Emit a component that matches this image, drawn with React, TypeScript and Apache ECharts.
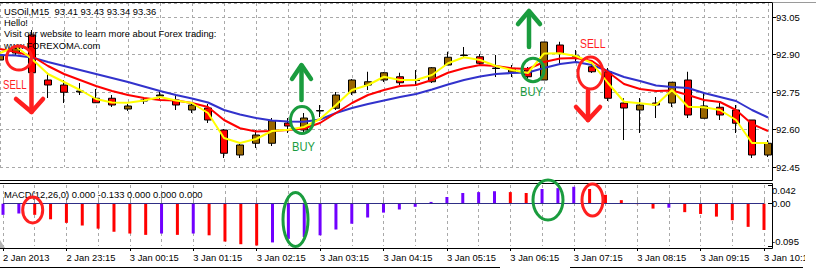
import React, { useEffect, useRef } from "react";
import * as echarts from "echarts";

const categories = [
  "2 Jan 2013", "2 Jan 22:30", "2 Jan 22:45", "2 Jan 23:00", "2 Jan 23:15", "2 Jan 23:30", "2 Jan 23:45",
  "3 Jan 00:00", "3 Jan 00:15", "3 Jan 00:30", "3 Jan 00:45", "3 Jan 01:00", "3 Jan 01:15", "3 Jan 01:30",
  "3 Jan 01:45", "3 Jan 02:00", "3 Jan 02:15", "3 Jan 02:30", "3 Jan 02:45", "3 Jan 03:00", "3 Jan 03:15",
  "3 Jan 03:30", "3 Jan 03:45", "3 Jan 04:00", "3 Jan 04:15", "3 Jan 04:30", "3 Jan 04:45", "3 Jan 05:00",
  "3 Jan 05:15", "3 Jan 05:30", "3 Jan 05:45", "3 Jan 06:00", "3 Jan 06:15", "3 Jan 06:30", "3 Jan 06:45",
  "3 Jan 07:00", "3 Jan 07:15", "3 Jan 07:30", "3 Jan 07:45", "3 Jan 08:00", "3 Jan 08:15", "3 Jan 08:30",
  "3 Jan 08:45", "3 Jan 09:00", "3 Jan 09:15", "3 Jan 09:30", "3 Jan 09:45", "3 Jan 10:00", "3 Jan 10:15",
];

const opens = [
  92.878, 92.906, 92.978, 92.798, 92.778, 92.75, 92.725, 92.725, 92.682, 92.714, 92.734, 92.718, 92.678,
  92.686, 92.598, 92.498, 92.545, 92.545, 92.626, 92.598, 92.674, 92.685, 92.747, 92.778, 92.798, 92.811,
  92.796, 92.791, 92.858, 92.896, 92.891, 92.844, 92.829, 92.838, 92.798, 92.938, 92.892, 92.851, 92.831,
  92.706, 92.678, 92.706, 92.706, 92.798, 92.645, 92.689, 92.678, 92.638, 92.498,
];
const highs = [
  92.91, 92.938, 92.998, 92.827, 92.798, 92.786, 92.762, 92.738, 92.702, 92.73, 92.75, 92.738, 92.71,
  92.702, 92.602, 92.542, 92.598, 92.646, 92.646, 92.666, 92.698, 92.75, 92.802, 92.831, 92.83, 92.827,
  92.838, 92.85, 92.911, 92.93, 92.902, 92.898, 92.858, 92.85, 92.95, 92.951, 92.918, 92.87, 92.846,
  92.725, 92.726, 92.73, 92.79, 92.831, 92.75, 92.706, 92.698, 92.638, 92.558,
];
const lows = [
  92.87, 92.898, 92.818, 92.726, 92.706, 92.738, 92.706, 92.69, 92.674, 92.702, 92.722, 92.678, 92.666,
  92.626, 92.486, 92.486, 92.526, 92.534, 92.586, 92.59, 92.65, 92.678, 92.738, 92.758, 92.79, 92.778,
  92.778, 92.786, 92.858, 92.89, 92.858, 92.81, 92.81, 92.798, 92.798, 92.858, 92.87, 92.826, 92.714,
  92.558, 92.586, 92.646, 92.69, 92.646, 92.645, 92.638, 92.586, 92.486, 92.49,
];
const closes = [
  92.898, 92.926, 92.827, 92.778, 92.749, 92.754, 92.707, 92.698, 92.694, 92.718, 92.738, 92.698, 92.698,
  92.638, 92.505, 92.538, 92.578, 92.635, 92.614, 92.646, 92.676, 92.738, 92.798, 92.791, 92.827, 92.787,
  92.798, 92.847, 92.889, 92.898, 92.865, 92.846, 92.845, 92.811, 92.95, 92.905, 92.894, 92.831, 92.725,
  92.686, 92.698, 92.698, 92.789, 92.658, 92.694, 92.658, 92.625, 92.498, 92.545,
];

const maFast = [
  92.906, 92.932, 92.882, 92.822, 92.79, 92.758, 92.722, 92.708, 92.707, 92.716, 92.73, 92.716, 92.706,
  92.666, 92.566, 92.546, 92.562, 92.594, 92.599, 92.61, 92.642, 92.698, 92.758, 92.778, 92.811, 92.798,
  92.798, 92.818, 92.865, 92.889, 92.878, 92.854, 92.838, 92.826, 92.904, 92.905, 92.894, 92.866, 92.786,
  92.711, 92.705, 92.698, 92.758, 92.691, 92.689, 92.678, 92.638, 92.546, 92.546,
];
const maMid = [
  92.922, 92.91, 92.894, 92.854, 92.822, 92.798, 92.774, 92.754, 92.738, 92.726, 92.718, 92.716, 92.706,
  92.69, 92.638, 92.605, 92.592, 92.594, 92.598, 92.604, 92.626, 92.666, 92.706, 92.738, 92.758, 92.774,
  92.778, 92.798, 92.827, 92.845, 92.858, 92.854, 92.845, 92.842, 92.87, 92.884, 92.886, 92.874, 92.83,
  92.782, 92.762, 92.754, 92.756, 92.738, 92.718, 92.71, 92.678, 92.622, 92.594,
];
const maSlow = [
  92.898, 92.896, 92.888, 92.87, 92.854, 92.838, 92.822, 92.806, 92.79, 92.772, 92.754, 92.738, 92.724,
  92.708, 92.678, 92.66, 92.646, 92.636, 92.632, 92.631, 92.64, 92.666, 92.686, 92.702, 92.716, 92.73,
  92.742, 92.76, 92.78, 92.798, 92.812, 92.822, 92.826, 92.828, 92.846, 92.862, 92.87, 92.858, 92.834,
  92.81, 92.794, 92.776, 92.77, 92.766, 92.746, 92.73, 92.714, 92.678, 92.648,
];

const macd = [
  -0.025, -0.022, -0.025, -0.035, -0.043, -0.049, -0.056, -0.063, -0.067, -0.07, -0.067, -0.07, -0.067,
  -0.071, -0.085, -0.091, -0.094, -0.087, -0.079, -0.075, -0.071, -0.058, -0.045, -0.031, -0.02, -0.013,
  -0.007, 0.004, 0.015, 0.024, 0.026, 0.028, 0.026, 0.024, 0.033, 0.035, 0.038, 0.033, 0.02, 0.008,
  -0.001, -0.011, -0.009, -0.019, -0.023, -0.029, -0.037, -0.052, -0.059,
];

const priceTicks = { min: 92.45, max: 93.106, step: 0.15 };
const macdTicks = { min: -0.095, max: 0.042, step: 0.095 };

const headerLines = [
  "USOil,M15  93.41 93.43 93.34 93.36",
  "Hello!",
  "Visit our website to learn more about Forex trading:",
  "www.FOREXOMA.com",
];
const macdTitle = "MACD(12,26,0) 0.000 -0.133 0.000 0.000 0.000";

const FONT = '"Liberation Sans", Arial, sans-serif';
const RED = "#ff1f1f";
const GREEN = "#1a9c3e";
const GRID = "#a9a9a9";

export default function App() {
  const ref = useRef<HTMLDivElement>(null);
  useEffect(() => {
    if (!ref.current) return;
    const chart = echarts.init(ref.current, null, { renderer: "svg" });

    const line = (x1: number, y1: number, x2: number, y2: number, stroke = "#000") => ({
      type: "line",
      z: 120,
      silent: true,
      shape: { x1, y1, x2, y2 },
      style: { stroke, lineWidth: 1 },
    });
    const ellipse = (cx: number, cy: number, rx: number, ry: number, stroke: string) => ({
      type: "ellipse",
      z: 130,
      silent: true,
      shape: { cx, cy, rx, ry },
      style: { stroke, fill: "none", lineWidth: 3 },
    });
    const poly = (points: number[][], stroke: string) => ({
      type: "polyline",
      z: 130,
      silent: true,
      shape: { points },
      style: { stroke, fill: "none", lineWidth: 4.5, lineCap: "round", lineJoin: "round" },
    });
    const txt = (text: string, x: number, y: number, fill = "#000", size = 9.4, scaleX = 1) => ({
      type: "text",
      z: 125,
      silent: true,
      x,
      y,
      scaleX,
      style: { text, fill, font: `${size}px ${FONT}`, align: "left", verticalAlign: "middle" },
    });

    const graphic: any[] = [
      {
        type: "rect",
        z: 119,
        silent: true,
        shape: { x: 805, y: 250, width: 11, height: 16 },
        style: { fill: "#ffffff" },
      },
      line(0, 2.5, 772.5, 2.5),
      line(772.5, 2.5, 816, 2.5, "#9a9a9a"),
      line(772.5, 2.5, 772.5, 180.5),
      line(0, 180.5, 772.5, 180.5),
      line(0, 183.5, 772.5, 183.5),
      line(772.5, 183.5, 772.5, 248.5),
      line(0, 248.5, 772.5, 248.5),
      line(0, 267.5, 500, 267.5),
      line(570, 267.5, 803, 267.5),
      {
        type: "polygon",
        z: 121,
        silent: true,
        shape: { points: [[0, 240], [0, 248], [5, 248]] },
        style: { fill: "#b4b4b4" },
      },
      ...headerLines.map((t, i) => txt(t, 4, 11.5 + i * 11.2)),
      txt(macdTitle, 4, 194),
      // annotations
      ellipse(19, 58, 12.5, 12, RED),
      ellipse(590.5, 73, 12.5, 16, RED),
      ellipse(32.7, 210, 10, 13, RED),
      ellipse(592.5, 200, 10.5, 16, RED),
      ellipse(302, 120, 11.5, 13.5, GREEN),
      ellipse(533, 70, 11, 11.7, GREEN),
      ellipse(295.5, 219.5, 12.5, 27, GREEN),
      ellipse(548, 200, 15, 20, GREEN),
      poly([[31.5, 74], [31.5, 112]], RED),
      poly([[16, 99], [31.5, 112], [43, 99]], RED),
      poly([[588, 91], [588, 120]], RED),
      poly([[576, 107], [588, 120], [600, 107]], RED),
      poly([[301.5, 66], [301.5, 100]], GREEN),
      poly([[292, 79], [301.5, 65], [311, 79]], GREEN),
      poly([[529, 12], [529, 47]], GREEN),
      poly([[518, 24], [529, 11], [540, 24]], GREEN),
      txt("SELL", 3, 84, RED, 13, 0.74),
      txt("SELL", 580, 43, RED, 13, 0.8),
      txt("BUY", 292, 147, GREEN, 13, 0.86),
      txt("BUY", 520, 92, GREEN, 13, 0.86),
    ];

    const labelStyle = { fontSize: 9.4, fontFamily: FONT, color: "#000" };
    const dashed = { color: GRID, type: [3, 3] as any, width: 1 };

    const option: any = {
      animation: false,
      backgroundColor: "#ffffff",
      grid: [
        { left: 0, top: 3, width: 768, height: 164 },
        { left: 0, top: 185, width: 768, height: 61 },
      ],
      xAxis: [
        {
          type: "category",
          gridIndex: 0,
          data: categories,
          boundaryGap: false,
          axisLine: { show: false },
          axisTick: { show: false },
          axisLabel: { show: false },
          splitLine: { show: true, interval: 1, lineStyle: dashed },
        },
        {
          type: "category",
          gridIndex: 1,
          data: categories,
          boundaryGap: false,
          position: "bottom",
          offset: 2,
          axisLine: { show: false },
          axisTick: { show: true, inside: true, interval: 1, length: 4, lineStyle: { color: "#9a9a9a" } },
          axisLabel: { show: true, interval: 3, align: "left", margin: 5, ...labelStyle },
          splitLine: { show: true, interval: 1, lineStyle: dashed },
        },
        {
          type: "category",
          gridIndex: 1,
          data: categories,
          boundaryGap: false,
          position: "bottom",
          offset: 2,
          axisLine: { show: false },
          axisTick: { show: true, interval: 3, length: 3, lineStyle: { color: "#000" } },
          axisLabel: { show: false },
          splitLine: { show: false },
        },
      ],
      yAxis: [
        {
          type: "value",
          gridIndex: 0,
          position: "right",
          offset: 4,
          min: priceTicks.min,
          max: priceTicks.max,
          interval: priceTicks.step,
          axisLine: { show: false },
          axisTick: { show: true, length: 4, lineStyle: { color: "#000" } },
          axisLabel: {
            margin: 4,
            showMaxLabel: false,
            formatter: (v: number) => v.toFixed(2),
            ...labelStyle,
            fontSize: 9.5,
          },
          splitLine: { show: true, lineStyle: dashed },
        },
        {
          type: "value",
          gridIndex: 1,
          position: "right",
          offset: 4,
          min: macdTicks.min,
          max: macdTicks.max,
          interval: macdTicks.step,
          axisLine: { show: false },
          axisTick: { show: true, length: 4, lineStyle: { color: "#000" } },
          axisLabel: {
            margin: 4,
            lineHeight: 10,
            formatter: (v: number) =>
              v === 0 ? "0.00" : v > 0 ? "\n" + v.toFixed(3) : v.toFixed(3) + "\n",
            ...labelStyle,
            fontSize: 9.5,
          },
          splitLine: { show: false },
        },
      ],
      series: [
        {
          type: "candlestick",
          xAxisIndex: 0,
          yAxisIndex: 0,
          barWidth: 8,
          clip: false,
          z: 2,
          data: opens.map((o, i) => [o, closes[i], lows[i], highs[i]]),
          itemStyle: {
            color: "#996600",
            color0: "#ff0000",
            borderColor: "#000000",
            borderColor0: "#000000",
            borderWidth: 1,
          },
        },
        {
          type: "line",
          xAxisIndex: 0,
          yAxisIndex: 0,
          data: maSlow,
          showSymbol: false,
          symbol: "none",
          z: 3,
          lineStyle: { color: "#3232cc", width: 2 },
        },
        {
          type: "line",
          xAxisIndex: 0,
          yAxisIndex: 0,
          data: maMid,
          showSymbol: false,
          symbol: "none",
          z: 4,
          lineStyle: { color: "#ff0000", width: 2 },
        },
        {
          type: "line",
          xAxisIndex: 0,
          yAxisIndex: 0,
          data: maFast,
          showSymbol: false,
          symbol: "none",
          z: 5,
          lineStyle: { color: "#ffff00", width: 2 },
        },
        {
          type: "bar",
          xAxisIndex: 1,
          yAxisIndex: 1,
          barWidth: 3,
          data: macd.map((v, i) => ({
            value: v,
            itemStyle: { color: i === 0 || v >= macd[i - 1] ? "#7000ff" : "#ff0000" },
          })),
          markLine: {
            silent: true,
            symbol: "none",
            label: { show: false },
            lineStyle: { color: "#2e2e86", width: 1, type: "solid" },
            data: [{ yAxis: 0 }],
          },
        },
      ],
      graphic,
    };

    chart.setOption(option);
    return () => chart.dispose();
  }, []);

  return (
    <div
      ref={ref}
      style={{ position: "fixed", left: 0, top: 0, width: 816, height: 270, background: "#fff" }}
    />
  );
}
